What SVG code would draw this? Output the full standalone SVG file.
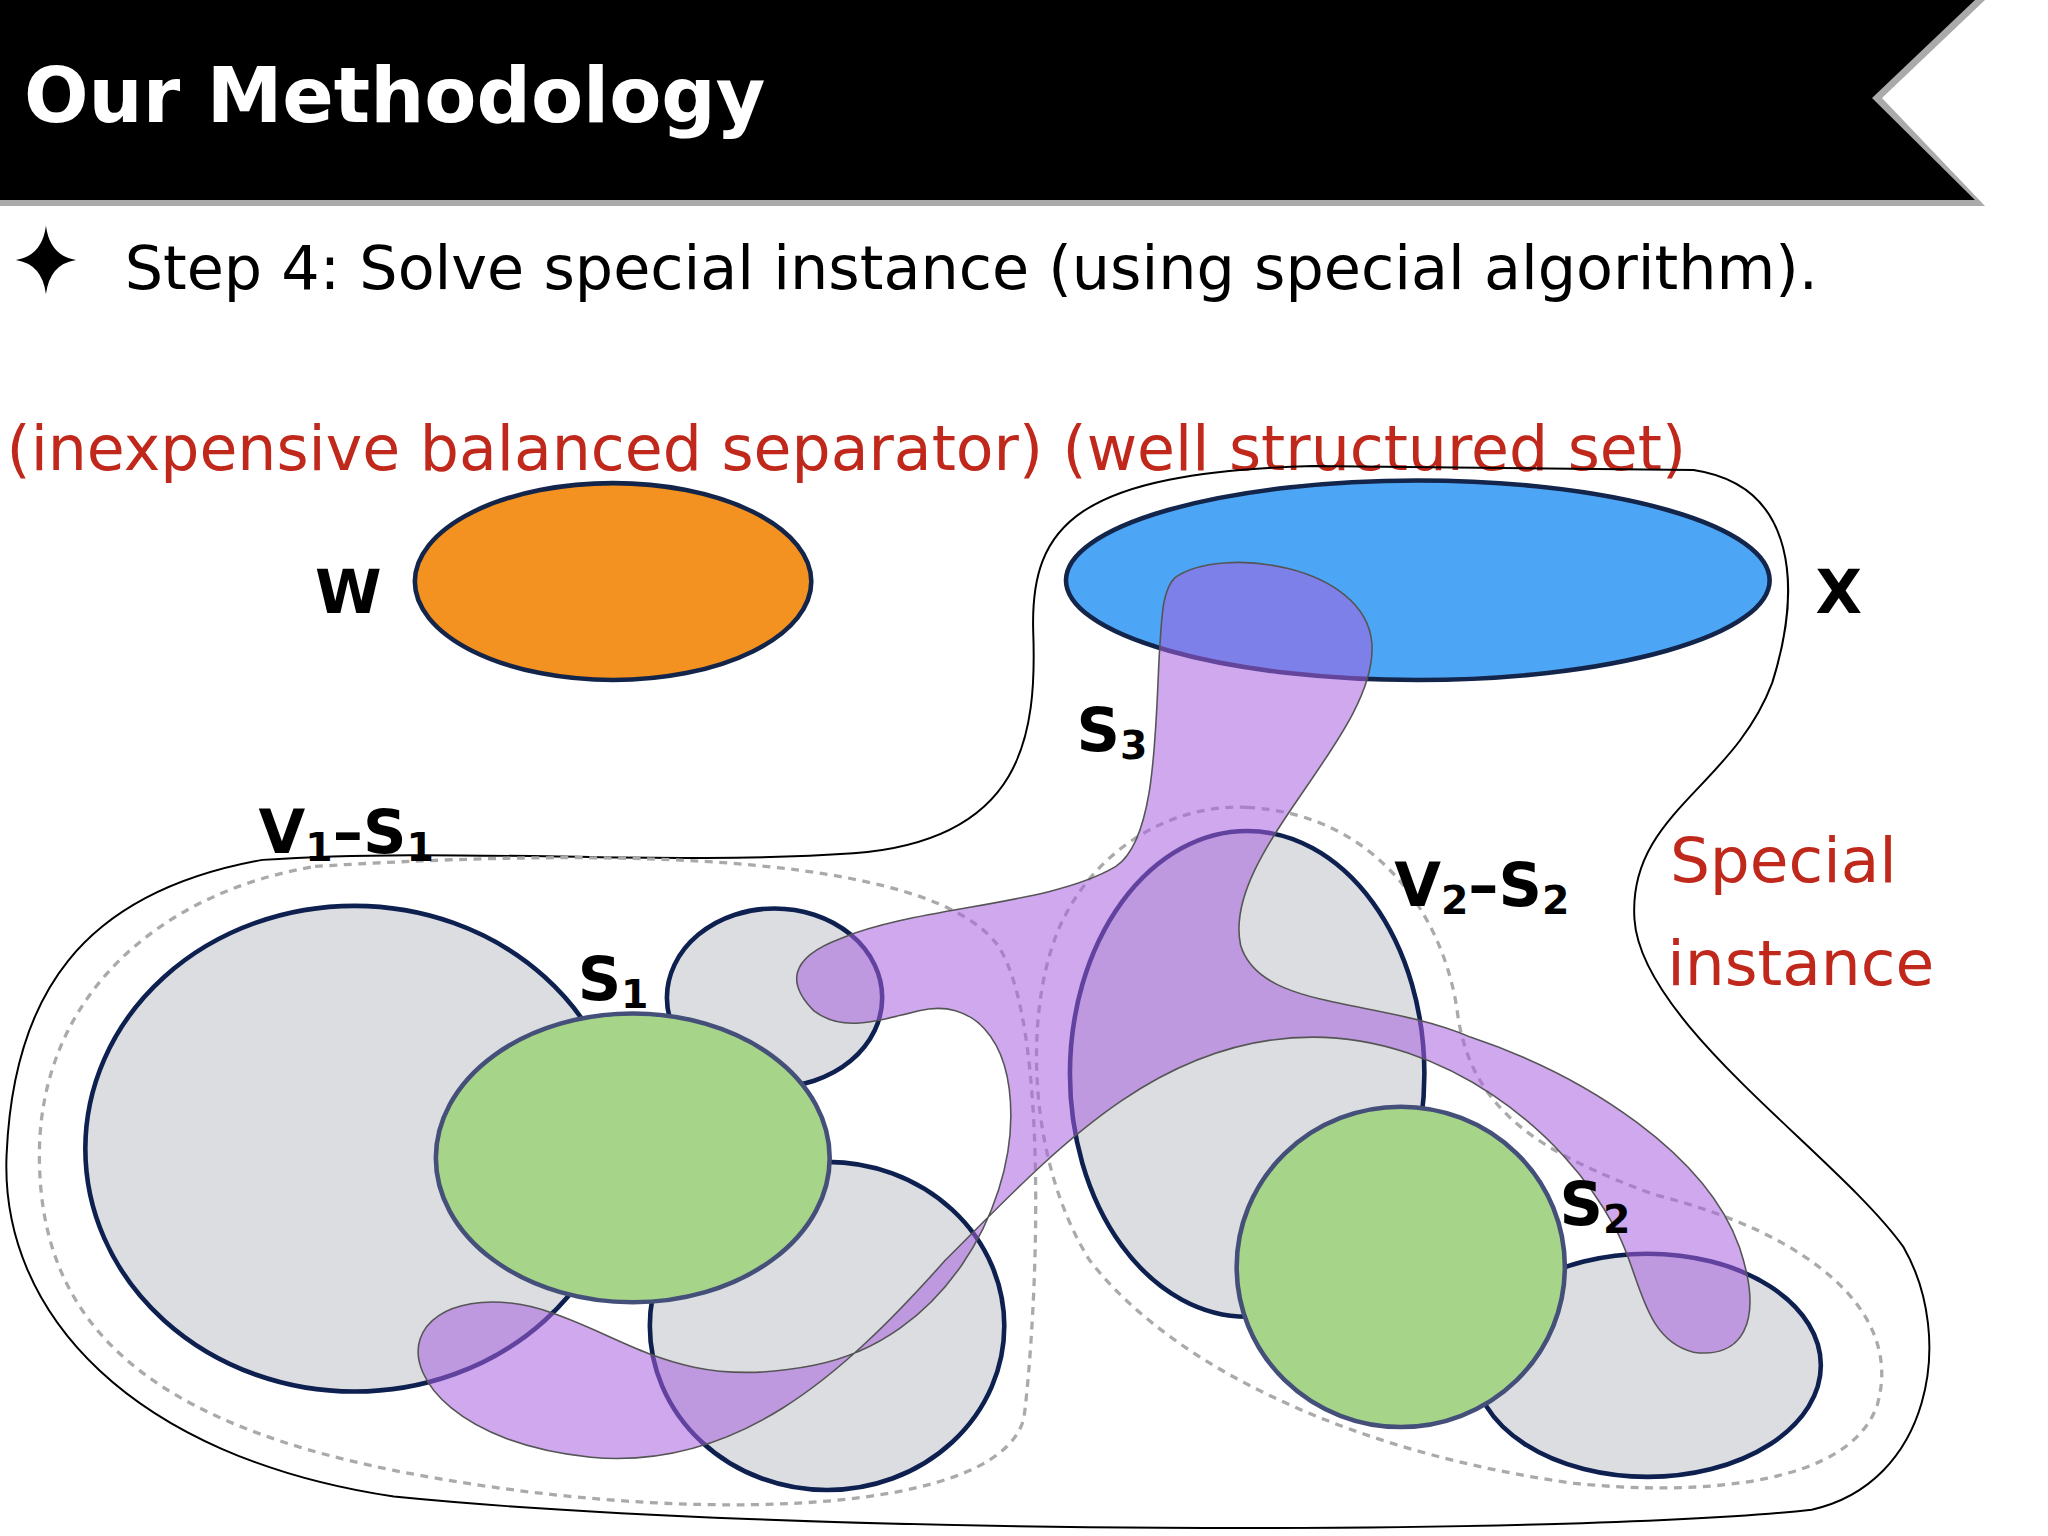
<svg xmlns="http://www.w3.org/2000/svg" width="2048" height="1536" viewBox="0 0 2048 1536">
<style>
.t{font-family:"DejaVu Sans","Noto Sans",sans-serif}
.lb{font-family:"DejaVu Sans",sans-serif;font-weight:bold;font-size:46px;fill:#000}
.red{font-family:"DejaVu Sans",sans-serif;fill:#c0281c}
.gray{fill:#dcdde0;stroke:#0d2050;stroke-width:3.5}
.green{fill:#a6d58a;stroke:#45507a;stroke-width:3.5}
.dash{fill:none;stroke:#aaa;stroke-width:2.5;stroke-dasharray:6 5}
.sub{font-size:30px}
</style>
<rect width="2048" height="1536" fill="#fff"/>
<g id="header">
<polygon points="0,0 1985,0 1882,98 1985,206 0,206" fill="#aaa"/>
<polygon points="0,0 1975,0 1872,98 1975,200 0,200" fill="#000"/>
<text x="24" y="122" class="t" font-size="76" font-weight="bold" fill="#fff">Our Methodology</text>
</g>
<g transform="scale(1.3128)">
<g id="step">
<path d="M35,172 Q38,195 58,198 Q38,201 35,224 Q32,201 12,198 Q32,195 35,172Z" fill="#000"/>
<text x="95" y="220" class="t" font-size="46" fill="#000">Step 4: Solve special instance (using special algorithm).</text>
</g>
<text x="5" y="358" class="red" font-size="47">(inexpensive balanced separator) (well structured set)</text>
<g id="outline">
<path d="M787,480 C785,400 820,360 1000,355 L1290,358 C1370,370 1372,450 1350,520 C1320,600 1240,620 1245,700 C1250,780 1400,880 1450,950 C1490,1020 1470,1130 1380,1150 C1200,1170 600,1170 300,1140 C100,1110 0,1000 5,880 C10,760 60,680 200,655 C350,645 500,660 650,650 C780,640 790,560 787,480 Z" fill="none" stroke="#000" stroke-width="1.5"/>
</g>
<g id="dashed">
<path d="M240,660 C400,650 700,640 760,720 C800,780 790,1000 780,1080 C760,1160 500,1160 300,1120 C100,1080 30,1000 30,880 C30,760 120,680 240,660Z" class="dash"/>
<path d="M950,615 C1050,620 1100,700 1110,770 C1120,850 1180,880 1260,910 C1380,940 1450,1000 1430,1070 C1410,1130 1300,1140 1200,1130 C1050,1110 900,1050 830,960 C780,880 780,760 810,700 C840,640 900,612 950,615Z" class="dash"/>
</g>
<g id="W"><ellipse cx="467" cy="443" rx="151" ry="75" fill="#f39220" stroke="#13254a" stroke-width="3.5"/><text x="240" y="467" class="lb" font-size="52">W</text></g>
<g id="X"><ellipse cx="1080" cy="442" rx="268" ry="76" fill="#4da6f5" stroke="#13254a" stroke-width="3.5"/><text x="1383" y="467" class="lb" font-size="52">X</text></g>
<g id="left">
<ellipse cx="270" cy="875" rx="205" ry="185" class="gray"/>
<ellipse cx="590" cy="760" rx="82" ry="68" class="gray"/>
<ellipse cx="630" cy="1010" rx="135" ry="125" class="gray"/>
<ellipse cx="482" cy="882" rx="150" ry="110" class="green"/>
</g>
<g id="right">
<ellipse cx="950" cy="818" rx="135" ry="185" class="gray"/>
<ellipse cx="1255" cy="1040" rx="132" ry="85" class="gray"/>
<ellipse cx="1067" cy="965" rx="125" ry="122" class="green"/>
</g>
<g id="S3region">
<path d="M895,440 C930,415 1040,430 1045,490 C1050,560 930,650 945,720 C960,770 1050,760 1120,790 C1210,820 1300,880 1325,950 C1345,1010 1325,1035 1290,1030 C1250,1020 1250,970 1230,935 C1190,860 1100,790 1000,790 C880,790 800,880 720,960 C640,1050 560,1120 450,1110 C350,1100 310,1050 320,1020 C330,990 380,985 420,1000 C480,1020 520,1060 620,1040 C720,1020 770,920 770,850 C770,790 740,760 700,770 C660,780 640,785 620,770 C600,750 600,730 640,715 C700,690 800,690 850,660 C880,640 880,560 883,500 C885,470 885,450 895,440Z" fill="#a860e0" fill-opacity="0.55" stroke="#555" stroke-width="1.2"/>
</g>
<g id="labels">
<text x="820" y="572" class="lb">S<tspan class="sub" dy="6">3</tspan></text>
<text x="197" y="650" class="lb">V<tspan class="sub" dy="6">1</tspan><tspan dy="-6">–S</tspan><tspan class="sub" dy="6">1</tspan></text>
<text x="440" y="762" class="lb">S<tspan class="sub" dy="6">1</tspan></text>
<text x="1062" y="690" class="lb">V<tspan class="sub" dy="6">2</tspan><tspan dy="-6">–S</tspan><tspan class="sub" dy="6">2</tspan></text>
<text x="1188" y="933" class="lb">S<tspan class="sub" dy="6">2</tspan></text>
<text x="1272" y="672" class="red" font-size="48">Special</text>
<text x="1270" y="750" class="red" font-size="48">instance</text>
</g>
</g>
</svg>
